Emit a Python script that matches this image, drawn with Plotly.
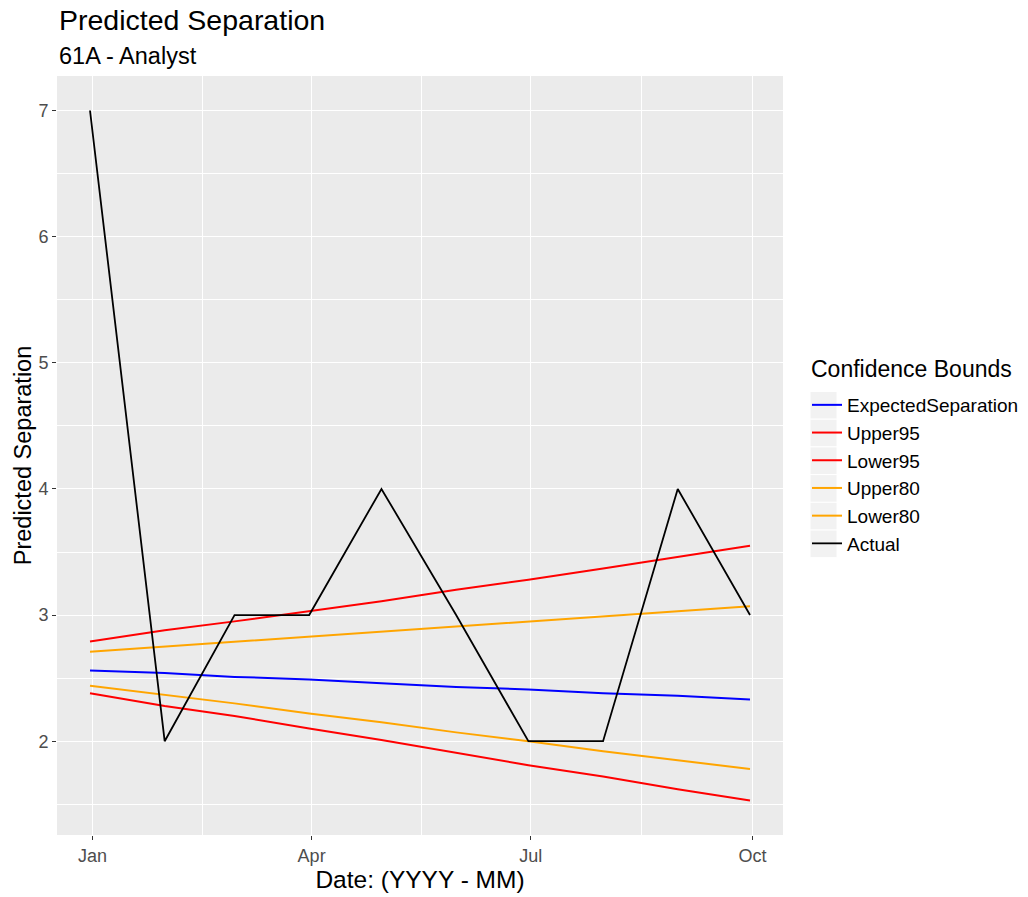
import pandas as pd
import plotly.graph_objects as go

# Month-end series
months = ["2019-12-31", "2020-01-31", "2020-02-29", "2020-03-31", "2020-04-30",
          "2020-05-31", "2020-06-30", "2020-07-31", "2020-08-31", "2020-09-30"]
expected_separation = [2.56, 2.54, 2.51, 2.49, 2.46, 2.43, 2.41, 2.38, 2.36, 2.33]
upper95 = [2.79, 2.88, 2.95, 3.03, 3.11, 3.20, 3.28, 3.37, 3.46, 3.55]
lower95 = [2.38, 2.28, 2.20, 2.10, 2.01, 1.91, 1.81, 1.72, 1.62, 1.53]
upper80 = [2.71, 2.75, 2.79, 2.83, 2.87, 2.91, 2.95, 2.99, 3.03, 3.07]
lower80 = [2.44, 2.37, 2.30, 2.22, 2.15, 2.07, 2.00, 1.92, 1.85, 1.78]
actual = [7, 2, 3, 3, 4, 3, 2, 2, 4, 3]

x_tick_dates = ["2020-01-01", "2020-04-01", "2020-07-01", "2020-10-01"]
x_tick_labels = ["Jan", "Apr", "Jul", "Oct"]
x_minor_dates = ["2020-02-15 12:00", "2020-05-16 12:00", "2020-08-16 00:00"]
y_ticks = [2, 3, 4, 5, 6, 7]
y_minor = [1.5, 2.5, 3.5, 4.5, 5.5, 6.5]

series = [
    ("ExpectedSeparation", expected_separation, "#0000FF", 2.0),
    ("Upper95", upper95, "#FF0000", 2.0),
    ("Lower95", lower95, "#FF0000", 2.0),
    ("Upper80", upper80, "#FFA500", 2.0),
    ("Lower80", lower80, "#FFA500", 2.0),
    ("Actual", actual, "#000000", 1.8),
]

FONT = "Liberation Sans, Arial, sans-serif"
W, H = 1028, 897
L, R, T, B = 57, 245, 76, 62
PW, PH = W - L - R, H - T - B


def px(p):
    return (p - L) / PW


def py(p):
    return (H - B - p) / PH


dates = pd.to_datetime(months)

fig = go.Figure()
for name, vals, color, width in series:
    fig.add_trace(go.Scatter(
        x=dates, y=vals, mode="lines", name=name,
        line=dict(color=color, width=width),
    ))

# ggplot-style 5% expansion of both scales
all_vals = expected_separation + upper95 + lower95 + upper80 + lower80 + actual
lo, hi = min(all_vals), max(all_vals)
ypad = 0.05 * (hi - lo)
xspan = dates.max() - dates.min()
xr = [dates.min() - 0.05 * xspan, dates.max() + 0.05 * xspan]

# legend key backgrounds
shapes = []
row_h = 27.7
for i in range(len(series)):
    top = 391.5 + i * row_h
    shapes.append(dict(
        type="rect", xref="paper", yref="paper",
        x0=px(810), x1=px(837), y0=py(top + row_h), y1=py(top),
        fillcolor="#F2F2F2", line=dict(color="white", width=1), layer="below",
    ))

annotations = [
    dict(text="Predicted Separation", xref="paper", yref="paper", x=0, y=py(20),
         xanchor="left", yanchor="middle", showarrow=False,
         font=dict(family=FONT, size=28.5, color="black")),
    dict(text="61A - Analyst", xref="paper", yref="paper", x=0, y=py(56),
         xanchor="left", yanchor="middle", showarrow=False,
         font=dict(family=FONT, size=23.5, color="black")),
    dict(text="Confidence Bounds", xref="paper", yref="paper", x=px(809), y=py(369),
         xanchor="left", yanchor="middle", showarrow=False,
         font=dict(family=FONT, size=23, color="black")),
]

fig.update_layout(
    width=W, height=H,
    margin=dict(l=L, r=R, t=T, b=B, autoexpand=False),
    paper_bgcolor="white",
    plot_bgcolor="#EBEBEB",
    font=dict(family=FONT, color="black"),
    showlegend=True,
    legend=dict(
        font=dict(family=FONT, size=19, color="black"),
        x=px(807), y=py(386), xanchor="left", yanchor="top",
        bgcolor="rgba(0,0,0,0)", borderwidth=0, tracegroupgap=0, itemwidth=30,
    ),
    shapes=shapes,
    annotations=annotations,
    xaxis=dict(
        type="date", range=xr,
        tickmode="array", tickvals=pd.to_datetime(x_tick_dates), ticktext=x_tick_labels,
        tickfont=dict(family=FONT, size=18, color="#4D4D4D"),
        ticks="outside", ticklen=4, tickcolor="#333333", tickwidth=1,
        showgrid=True, gridcolor="white", gridwidth=1.1,
        minor=dict(tickmode="array", tickvals=pd.to_datetime(x_minor_dates),
                   showgrid=True, gridcolor="white", gridwidth=0.55, ticks=""),
        zeroline=False, showline=False,
        title=dict(text="Date: (YYYY - MM)", font=dict(family=FONT, size=24.5, color="black"),
                   standoff=2),
    ),
    yaxis=dict(
        range=[lo - ypad, hi + ypad],
        tickmode="array", tickvals=y_ticks,
        tickfont=dict(family=FONT, size=18, color="#4D4D4D"),
        ticks="outside", ticklen=4, tickcolor="#333333", tickwidth=1,
        showgrid=True, gridcolor="white", gridwidth=1.1,
        minor=dict(tickmode="array", tickvals=y_minor,
                   showgrid=True, gridcolor="white", gridwidth=0.55, ticks=""),
        zeroline=False, showline=False,
        title=dict(text="Predicted Separation", font=dict(family=FONT, size=23.5, color="black"),
                   standoff=0),
    ),
)

fig.write_html("out.html")
